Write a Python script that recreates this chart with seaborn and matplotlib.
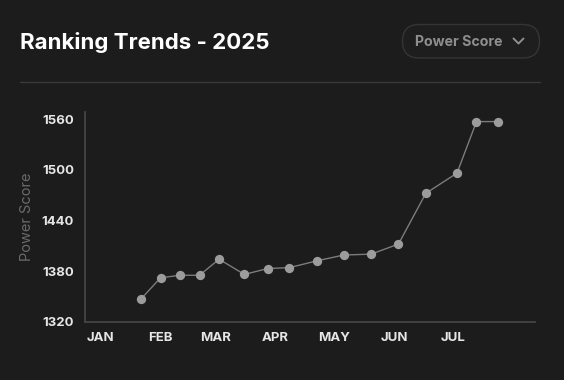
## Ranking trends card: power score over 2025, dark theme
import pandas as pd
import numpy as np
import matplotlib.pyplot as plt
from matplotlib.patches import FancyBboxPatch
import seaborn as sns

dates = ["2025-01-22", "2025-02-01", "2025-02-11", "2025-02-21", "2025-03-03", "2025-03-16",
         "2025-03-28", "2025-04-08", "2025-04-22", "2025-05-06", "2025-05-20", "2025-06-03",
         "2025-06-17", "2025-07-03", "2025-07-13", "2025-07-24"]
scores = [1347, 1372, 1375, 1375, 1394, 1376, 1383, 1384, 1392, 1399, 1400, 1412,
          1472, 1496, 1557, 1557]
month_starts = ["2025-01-01", "2025-02-01", "2025-03-01", "2025-04-01", "2025-05-01",
                "2025-06-01", "2025-07-01"]
month_labels = ["JAN", "FEB", "MAR", "APR", "MAY", "JUN", "JUL"]
y_ticks = [1320, 1380, 1440, 1500, 1560]

df = pd.DataFrame({"date": pd.to_datetime(dates), "score": scores})

sns.set_theme(style="dark")
plt.rcParams["font.family"] = ["Inter", "DejaVu Sans"]

bg = "#1c1c1c"
W, H = 564, 380
fig = plt.figure(figsize=(W / 100, H / 100), dpi=100, facecolor=bg)

# overlay in pixel coords for the card decorations
deco = fig.add_axes([0, 0, 1, 1])
deco.set_xlim(0, W)
deco.set_ylim(H, 0)
deco.axis("off")
deco.patch.set_visible(False)

deco.text(20, 49.3, "Ranking Trends - 2025", fontsize=16, fontweight="bold",
          color="white", va="baseline", ha="left")
deco.add_patch(FancyBboxPatch((402.5, 24.5), 137, 33.5, boxstyle="round,pad=0,rounding_size=16.7",
                              facecolor="#1e1e1e", edgecolor="#353535", linewidth=1))
deco.text(415, 46, "Power Score", fontsize=10.2, fontweight="bold", color="#8e8e8e",
          va="baseline", ha="left")
deco.plot([513.5, 518.5, 523.5], [38.5, 43.5, 38.5], color="#8e8e8e", linewidth=1.4,
          solid_capstyle="round", solid_joinstyle="round")
deco.plot([20, 540], [82, 82], color="#3a3a3a", linewidth=1)
deco.text(26.7, 216.7, "Power Score", fontsize=10.5, color="#6a6a6a", rotation=90,
          va="center", ha="center")

# main chart
ax = fig.add_axes([85.3 / W, (H - 321.7) / H, (535 - 85.3) / W, (321.7 - 112.3) / H])
ax.set_facecolor(bg)
sns.lineplot(data=df, x="date", y="score", ax=ax, color="#7c7c7c", linewidth=1,
             marker="o", markersize=6.7, markerfacecolor="#9c9c9c", markeredgecolor="#9c9c9c",
             markeredgewidth=0)

ax.set_xlim(pd.Timestamp("2024-12-24 10:00"), pd.Timestamp("2025-08-12"))
ax.set_ylim(1320, 1568)
ax.set_xticks(pd.to_datetime(month_starts))
ax.set_xticklabels(month_labels)
ax.set_yticks(y_ticks)
ax.set_yticklabels([str(v) for v in y_ticks])
ax.tick_params(axis="both", length=0, labelsize=9.5, labelcolor="#e6e6e6")
ax.tick_params(axis="y", pad=8)
ax.tick_params(axis="x", pad=7.5)
for lab in ax.get_xticklabels() + ax.get_yticklabels():
    lab.set_fontweight("bold")
ax.set_xlabel("")
ax.set_ylabel("")
ax.grid(False)
for s in ["top", "right"]:
    ax.spines[s].set_visible(False)
for s in ["left", "bottom"]:
    ax.spines[s].set_visible(True)
    ax.spines[s].set_color("#444444")
    ax.spines[s].set_linewidth(1.3)

plt.savefig("out.png", dpi=100, facecolor=bg)
